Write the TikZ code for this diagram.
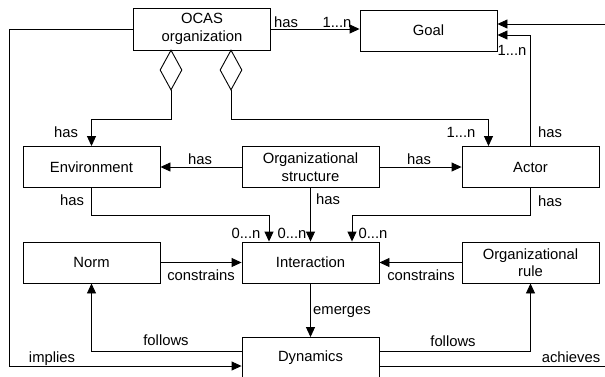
\documentclass[tikz,border=0pt]{standalone}
\usepackage{fontspec}
\setmainfont{Liberation Sans}
\usetikzlibrary{arrows.meta,shapes.geometric}

\tikzset{
  box/.style={draw, minimum width=137pt, minimum height=41pt, inner sep=0pt, align=center},
  agg/.style={draw, diamond, minimum width=22pt, minimum height=40pt, inner sep=0pt},
  lbl/.style={anchor=base, inner sep=0pt},
  arr/.style={-{Triangle[length=10pt,width=9pt]}},
}

\begin{document}
\begin{tikzpicture}[x=1pt, y=-1pt, line width=0.9pt, font=\fontsize{14.8}{17.5}\selectfont]
\useasboundingbox (0,0) rectangle (605,376);
\clip (0,0) rectangle (605,376);
% concepts
\node[box, minimum height=42pt] (ocas) at (202,29) {OCAS\\organization};
\node[box] (goal) at (428.5,30.5) {Goal};
\node[box] (env) at (91.5,167) {Environment};
\node[box] (org) at (310.5,167) {Organizational\\structure};
\node[box] (actor) at (530.5,167) {Actor};
\node[box] (norm) at (91.5,262.5) {Norm};
\node[box] (inter) at (310.5,262.5) {Interaction};
\node[box] (rule) at (530.5,262.5) {Organizational\\rule};
\node[box] (dyn) at (310.5,358) {Dynamics};
% aggregation diamonds
\node[agg] (aggenv) at (171,70) {};
\node[agg] (aggact) at (231,70) {};
% relations
\draw[arr] (ocas.east) -- (ocas.east -| goal.west);
\draw[arr] (aggenv.south) -- ++(0,29) -| (env.north);
\draw[arr] (aggact.south) -- ++(0,29) -| ([xshift=-42pt]actor.north);
\draw[arr] (actor.north) |- ([yshift=-4.5pt]goal.east);
\draw[arr] ([yshift=-8pt]dyn.east) -- ++(227,0) |- ([yshift=6.5pt]goal.east);
\draw[arr] (ocas.west) -- ++(-124,0) |- ([yshift=-8pt]dyn.west);
\draw[arr] (org.west) -- (env.east);
\draw[arr] (org.east) -- (actor.west);
\draw[arr] (env.south) -- ++(0,27) -| ([xshift=-41.5pt]inter.north);
\draw[arr] (org.south) -- (inter.north);
\draw[arr] (actor.south) -- ++(0,27) -| ([xshift=41.5pt]inter.north);
\draw[arr] (norm.east) -- (inter.west);
\draw[arr] (rule.west) -- (inter.east);
\draw[arr] (inter.south) -- (dyn.north);
\draw[arr] ([yshift=7pt]dyn.west) -| (norm.south);
\draw[arr] ([yshift=7pt]dyn.east) -| (rule.south);
% labels
\node[lbl] (hasgoal) at (286,27) {has};
\node[lbl] (ngoal) at (337,27) {1...n};
\node[lbl] (nactgoal) at (512,55) {1...n};
\node[lbl] (hasactgoal) at (550,137) {has};
\node[lbl] (hasenv) at (66,137) {has};
\node[lbl] (nact) at (461,137) {1...n};
\node[lbl] (hasorgenv) at (200,164) {has};
\node[lbl] (hasorgact) at (419,164) {has};
\node[lbl] (hasenvint) at (72,205) {has};
\node[lbl] (hasorgint) at (328,204) {has};
\node[lbl] (hasactint) at (550,206) {has};
\node[lbl] (nenv) at (246,238) {0...n};
\node[lbl] (norg) at (292,238) {0...n};
\node[lbl] (nactint) at (373,238) {0...n};
\node[lbl] (connorm) at (201,280) {constrains};
\node[lbl] (conrule) at (421,280) {constrains};
\node[lbl] (emerg) at (342,314) {emerges};
\node[lbl] (folnorm) at (166,345) {follows};
\node[lbl] (folrule) at (453,346) {follows};
\node[lbl] (impl) at (52,362) {implies};
\node[lbl] (achv) at (571,362) {achieves};
\end{tikzpicture}
\end{document}
